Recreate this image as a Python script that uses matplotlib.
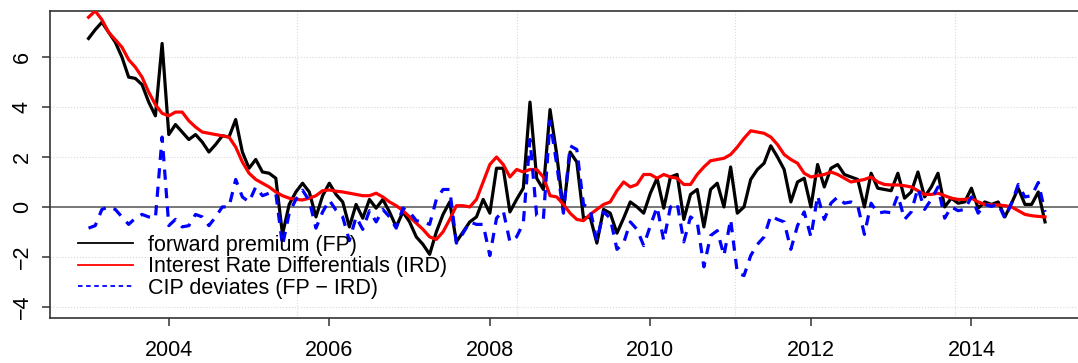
import numpy as np
import matplotlib.pyplot as plt
from matplotlib.lines import Line2D

# monthly series, Jan 2003 - Dec 2014
fp = [6.75, 7.1, 7.4, 7.0, 6.6, 6.0, 5.2, 5.15, 4.9, 4.2, 3.65, 6.55,
      2.9, 3.3, 3.0, 2.7, 2.9, 2.6, 2.2, 2.5, 2.85, 2.8, 3.5, 2.2,
      1.55, 1.9, 1.4, 1.35, 1.15, -1.1, 0.1, 0.6, 0.95, 0.6, -0.4, 0.45,
      0.95, 0.5, 0.2, -0.8, 0.1, -0.45, 0.3, -0.05, 0.3, -0.2, -0.8, -0.2,
      -0.6, -1.2, -1.5, -1.9, -1.0, -0.3, 0.2, -1.4, -1.0, -0.6, -0.4, 0.3,
      -0.25, 1.55, 1.55, -0.2, 0.3, 0.75, 4.2, 1.15, 0.7, 3.9, 2.1, -0.15,
      2.2, 1.8, -0.45, -0.4, -1.45, -0.1, -0.25, -1.05, -0.45, 0.2, 0.0, -0.25,
      0.55, 1.15, -0.05, 1.2, 1.3, -0.5, 0.5, 0.7, -0.8, 0.7, 0.95, 0.0,
      1.6, -0.25, 0.0, 1.1, 1.5, 1.75, 2.45, 2.0, 1.5, 0.2, 1.0, 1.15,
      0.0, 1.7, 0.8, 1.55, 1.7, 1.3, 1.2, 1.1, 0.0, 1.35, 0.75, 0.7,
      0.65, 1.35, 0.35, 0.6, 1.4, 0.4, 0.8, 1.35, 0.0, 0.35, 0.15, 0.2,
      0.75, -0.05, 0.2, 0.1, 0.2, -0.4, 0.15, 0.75, 0.1, 0.1, 0.6, -0.6]

ird = [7.6, 7.85, 7.5, 7.0, 6.7, 6.4, 5.9, 5.6, 5.2, 4.6, 4.1, 3.75,
       3.65, 3.8, 3.8, 3.45, 3.2, 3.0, 2.95, 2.9, 2.85, 2.8, 2.4, 1.8,
       1.35, 1.1, 0.95, 0.8, 0.6, 0.45, 0.35, 0.3, 0.28, 0.35, 0.45, 0.65,
       0.68, 0.63, 0.6, 0.55, 0.5, 0.45, 0.45, 0.55, 0.4, 0.2, 0.05, -0.15,
       -0.4, -0.65, -0.9, -1.2, -1.3, -1.0, -0.5, 0.05, 0.05, 0.0, 0.3, 1.0,
       1.7, 2.0, 1.7, 1.2, 1.5, 1.4, 1.5, 1.5, 1.2, 0.45, 0.4, 0.1,
       -0.25, -0.5, -0.55, -0.3, -0.1, 0.1, 0.2, 0.65, 1.0, 0.8, 0.9, 1.3,
       1.3, 1.15, 1.3, 1.2, 1.15, 0.9, 0.9, 1.3, 1.6, 1.85, 1.9, 1.95,
       2.1, 2.4, 2.75, 3.05, 3.0, 2.95, 2.8, 2.5, 2.1, 1.9, 1.75, 1.35,
       1.2, 1.25, 1.3, 1.4, 1.3, 1.15, 1.0, 1.05, 1.1, 1.2, 1.0, 0.9,
       0.88, 0.88, 0.85, 0.8, 0.65, 0.5, 0.5, 0.55, 0.45, 0.35, 0.3, 0.3,
       0.35, 0.2, 0.1, 0.08, 0.08, 0.05, 0.0, -0.15, -0.3, -0.35, -0.38, -0.4]

fp = np.array(fp)
ird = np.array(ird)
cip = fp - ird
t = 2003 + np.arange(len(fp)) / 12

labels = ["forward premium (FP)", "Interest Rate Differentials (IRD)",
          "CIP deviates (FP \u2212 IRD)"]
year_ticks = [2004, 2006, 2008, 2010, 2012, 2014]
y_ticks = [-4, -2, 0, 2, 4, 6]

plt.rcParams['font.family'] = ['Liberation Sans', 'DejaVu Sans']

W, H = 1078, 363
fig = plt.figure(figsize=(W / 100, H / 100), dpi=100)
ax = fig.add_axes([50 / W, 1 - 318 / H, (1083 - 50) / W, (318 - 11) / H])

# faint dotted grid
for v in y_ticks:
    ax.axhline(v, color='#d9d9d9', lw=0.8, ls=':', zorder=0)
for v in [2005.60, 2008.34, 2011.06, 2013.80]:
    ax.axvline(v, color='#d9d9d9', lw=0.8, ls=':', zorder=0)
ax.axhline(0, color='#555555', lw=1.1, zorder=1)

ax.plot(t, fp, color='black', lw=2.3, zorder=2)
ax.plot(t, ird, color='red', lw=2.3, zorder=3)
ax.plot(t, cip, color='blue', lw=2.3, dashes=(3.2, 2.6), zorder=4)

ax.set_xlim(2002.52, 2015.39)
ax.set_ylim(-4.45, 7.85)
ax.set_xticks(year_ticks)
ax.set_yticks(y_ticks)
ax.tick_params(axis='both', direction='out', length=6, width=1.1,
               labelsize=15.5, color='#333333')
ax.tick_params(axis='x', pad=10)
ax.tick_params(axis='y', pad=6.5)
for lbl in ax.get_yticklabels():
    lbl.set_rotation(90)
    lbl.set_va('center')
for sp in ax.spines.values():
    sp.set_linewidth(1.2)
    sp.set_color('#333333')

handles = [Line2D([], [], color='black', lw=1.3),
           Line2D([], [], color='red', lw=1.3),
           Line2D([], [], color='blue', lw=1.3, dashes=(2.5, 2))]
ax.legend(handles, labels, loc='upper left',
          bbox_to_anchor=(78 / W, 1 - 235 / H), bbox_transform=fig.transFigure,
          frameon=False, borderpad=0, borderaxespad=0, handlelength=2.55,
          handletextpad=0.7, labelspacing=0.02, fontsize=15.5)

fig.savefig("out.png", dpi=100)
